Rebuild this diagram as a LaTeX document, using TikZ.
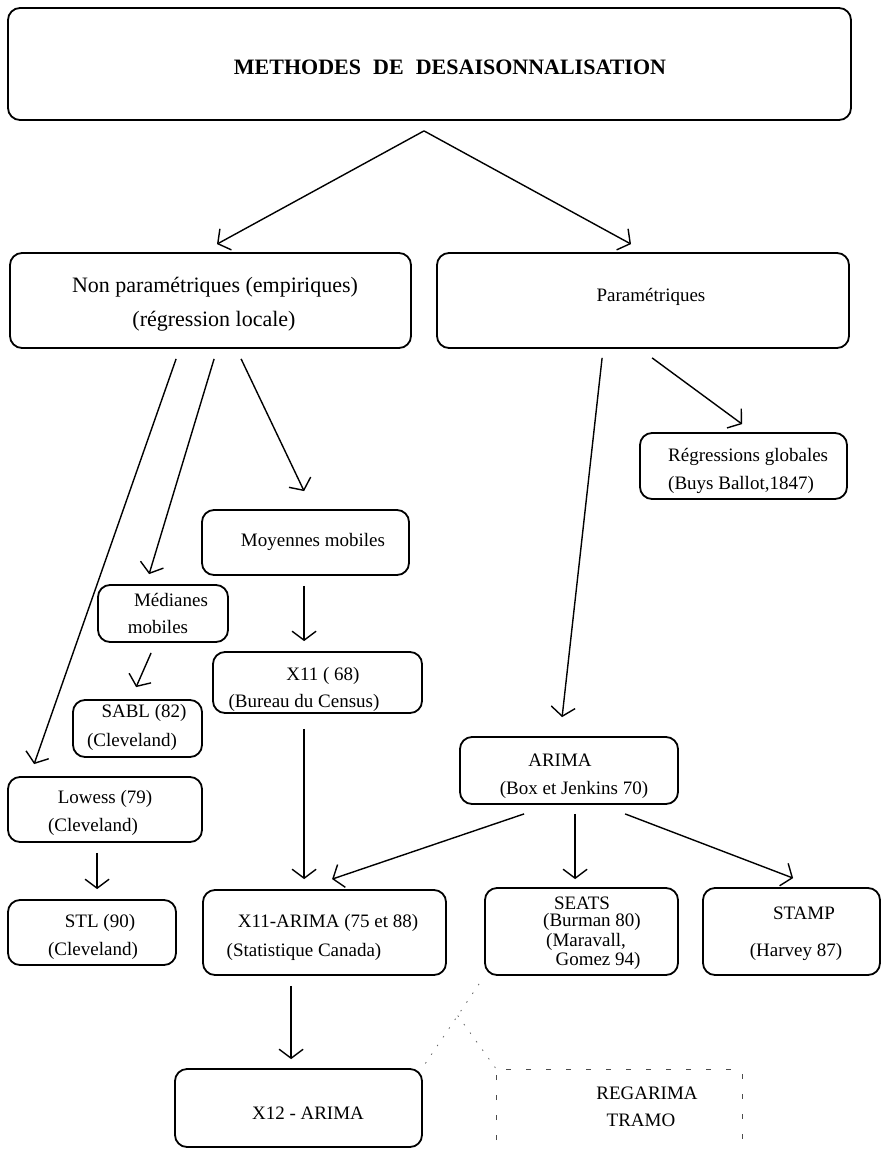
\documentclass[tikz,border=0pt]{standalone}
\usepackage{fontspec}
\setmainfont{Liberation Serif}
\usetikzlibrary{arrows.meta,calc}
\begin{document}
\begin{tikzpicture}[x=1pt,y=-1pt,
  box/.style={draw=black, line width=1.8pt, rounded corners=12pt, inner sep=0pt},
  txt/.style={inner sep=0pt, font=\fontsize{19}{22}\selectfont},
  bigtxt/.style={inner sep=0pt, font=\fontsize{22}{25}\selectfont},
  arr/.style={line width=1.4pt, -{Straight Barb[length=9pt,width=24pt,line width=1.4pt]}},
  faint/.style={line width=0.8pt, black!60, dash pattern=on 1.5pt off 9pt},
  dashbox/.style={line width=0.9pt, black!70, dash pattern=on 5pt off 15pt}]
\useasboundingbox (0,0) rectangle (882,1153);
\fill[white] (0,0) rectangle (882,1153);

% boxes
\node[box, minimum width=843pt, minimum height=112pt] (top) at (429.5,64) {};
\node[box, minimum width=401pt, minimum height=95pt] (np) at (210.5,300.5) {};
\node[box, minimum width=412pt, minimum height=95pt] (par) at (643,300.5) {};
\node[box, minimum width=207pt, minimum height=66pt] (reg) at (743.5,466) {};
\node[box, minimum width=207pt, minimum height=65pt] (moy) at (305.5,542.5) {};
\node[box, minimum width=130pt, minimum height=57pt] (med) at (163,613.5) {};
\node[box, minimum width=209pt, minimum height=61pt] (x11) at (317.5,682.5) {};
\node[box, minimum width=129pt, minimum height=57pt] (sabl) at (137.5,728.5) {};
\node[box, minimum width=218pt, minimum height=67pt] (arima) at (569,770.5) {};
\node[box, minimum width=194pt, minimum height=65pt] (lowess) at (105,809.5) {};
\node[box, minimum width=168pt, minimum height=65pt] (stl) at (92,932.5) {};
\node[box, minimum width=243pt, minimum height=85pt] (x11a) at (324.5,932.5) {};
\node[box, minimum width=193pt, minimum height=87pt] (seats) at (581.5,931.5) {};
\node[box, minimum width=177pt, minimum height=87pt] (stamp) at (791.5,931.5) {};
\node[box, minimum width=247pt, minimum height=78pt] (x12) at (298.5,1108) {};
\node[inner sep=0pt, minimum width=245pt, minimum height=90pt] (rega) at (619.5,1115) {};
\draw[dashbox] (rega.south west) -- (rega.north west) -- (rega.north east) -- (rega.south east);

% texts
\node[inner sep=0pt, font=\fontsize{22}{25}\selectfont\bfseries] (t-top) at (450,67)
  {METHODES\hspace{0.55em}DE\hspace{0.55em}DESAISONNALISATION};
\node[bigtxt] (t-np1) at (215,287) {Non paramétriques (empiriques)};
\node[bigtxt] (t-np2) at (214,321) {(régression locale)};
\node[txt] (t-par) at (651,297) {Paramétriques};
\node[txt, anchor=west] (t-reg1) at (668,457) {Régressions globales};
\node[txt, anchor=west] (t-reg2) at (668,485) {(Buys Ballot,1847)};
\node[txt] (t-moy) at (313,542) {Moyennes mobiles};
\node[txt] (t-med1) at (171,600) {Médianes};
\node[txt] (t-med2) at (158,627) {mobiles};
\node[txt] (t-x111) at (323,676) {X11 ( 68)};
\node[txt] (t-x112) at (304,703) {(Bureau du Census)};
\node[txt] (t-sabl1) at (144,713) {SABL (82)};
\node[txt] (t-sabl2) at (132,742) {(Cleveland)};
\node[txt] (t-low1) at (105,799) {Lowess (79)};
\node[txt] (t-low2) at (93,827) {(Cleveland)};
\node[txt] (t-stl1) at (100,923) {STL (90)};
\node[txt] (t-stl2) at (93,951) {(Cleveland)};
\node[txt] (t-x11a1) at (328,923) {X11-ARIMA (75 et 88)};
\node[txt] (t-x11a2) at (304,952) {(Statistique Canada)};
\node[txt] (t-ar1) at (560,760) {ARIMA};
\node[txt] (t-ar2) at (574,790) {(Box et Jenkins 70)};
\node[txt] (t-se1) at (582,903) {SEATS};
\node[txt] (t-se2) at (592,922) {(Burman 80)};
\node[txt] (t-se3) at (586,942) {(Maravall,};
\node[txt] (t-se4) at (598,961) {Gomez 94)};
\node[txt] (t-st1) at (804,913) {STAMP};
\node[txt] (t-st2) at (796,952) {(Harvey 87)};
\node[txt] (t-x12) at (308,1113) {X12 - ARIMA};
\node[txt] (t-rg1) at (647,1093) {REGARIMA};
\node[txt] (t-rg2) at (641,1120) {TRAMO};

% arrows
\draw[arr] ([shift={(-5.5,10)}]top.south) -- ([shift={(6.5,-8)}]np.north);
\draw[arr] ([shift={(-5.5,10)}]top.south) -- ([shift={(-12,-8)}]par.north);
\draw[arr] ([shift={(167,10)}]np.south west) -- ([shift={(27,-12)}]lowess.north west);
\draw[arr] ([shift={(205,10)}]np.south west) -- ([shift={(52,-10)}]med.north west);
\draw[arr] ([shift={(232,10)}]np.south west) -- ([shift={(103,-18)}]moy.north west);
\draw[arr] ([shift={(166,9)}]par.south west) -- ([shift={(103,-19)}]arima.north west);
\draw[arr] ([shift={(216,9)}]par.south west) -- ([shift={(103,-8)}]reg.north west);
\draw[arr] ([shift={(54,10)}]med.south west) -- ([shift={(64,-12)}]sabl.north west);
\draw[arr] ([shift={(103,10)}]moy.south west) -- ([shift={(92,-10)}]x11.north west);
\draw[arr] ([shift={(92,15)}]x11.south west) -- ([shift={(102,-10)}]x11a.north west);
\draw[arr] ([shift={(90,10)}]lowess.south west) -- ([shift={(90,-10)}]stl.north west);
\draw[arr] ([shift={(65,9)}]arima.south west) -- ([shift={(130,-10)}]x11a.north west);
\draw[arr] ([shift={(116,9)}]arima.south west) -- ([shift={(91,-8)}]seats.north west);
\draw[arr] ([shift={(166,9)}]arima.south west) -- ([shift={(91,-9)}]stamp.north west);
\draw[arr] ([shift={(89,10)}]x11a.south west) -- ([shift={(117,-9)}]x12.north west);

% faint dotted links
\draw[faint] ([shift={(-5,8)}]seats.south west) -- coordinate[pos=0.38] (dj) ([shift={(0,-1)}]x12.north east);
\draw[faint] (dj) -- (rega.north west);
\end{tikzpicture}
\end{document}
